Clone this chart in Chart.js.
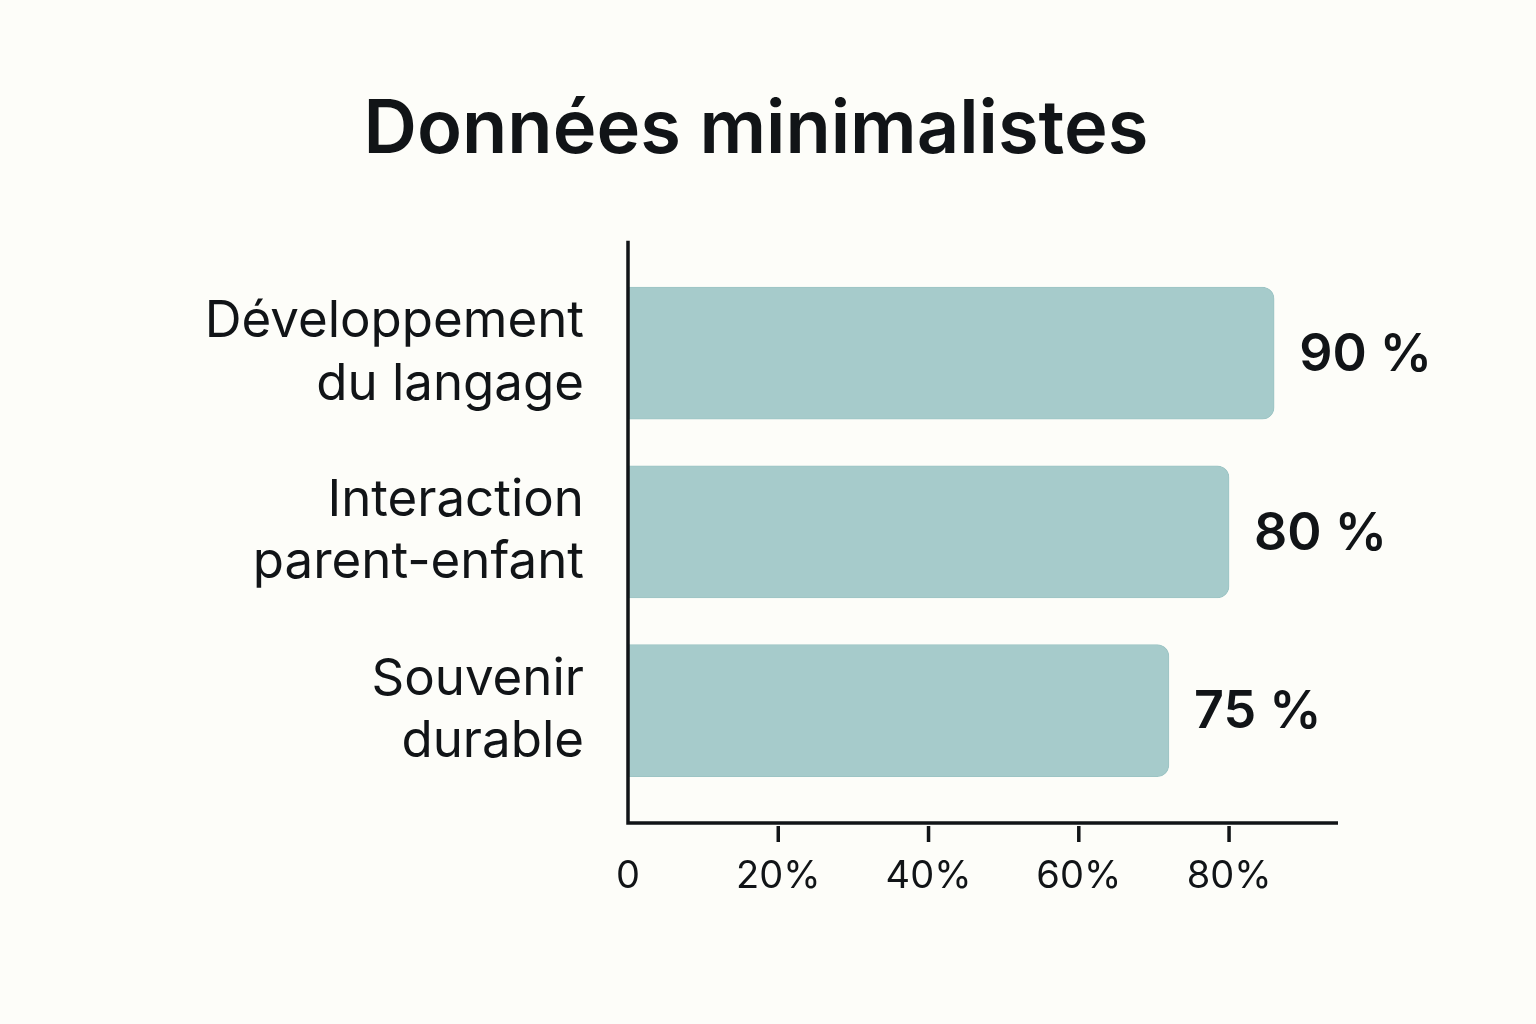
<!DOCTYPE html>
<html>
<head>
<meta charset="utf-8">
<script src="https://cdn.jsdelivr.net/npm/chart.js@4/dist/chart.umd.min.js"></script>
<style>
  body { margin: 0; background: #fdfdf9; }
  canvas { display: block; }
</style>
</head>
<body>
<canvas id="myChart" width="1536" height="1024"></canvas>
<script>
// Données
const categories = [
    ['Développement', 'du langage'],
    ['Interaction', 'parent-enfant'],
    ['Souvenir', 'durable']
];
const barValues = [86, 80, 72];           // longueur des barres telle que dessinée
const valueLabels = ['90 %', '80 %', '75 %'];
const xTickLabels = ['0', '20%', '40%', '60%', '80%'];

const ink = '#111417';

// Axes dessinés à la main (ils dépassent la zone des barres)
const axesPlugin = {
    id: 'axes',
    afterDatasetsDraw(chart) {
        const ctx = chart.ctx;
        const area = chart.chartArea;
        const x = chart.scales.x;
        const baseY = area.bottom + 23;
        ctx.save();
        ctx.strokeStyle = ink;
        ctx.lineWidth = 3.5;
        ctx.beginPath();
        ctx.moveTo(area.left, area.top - 23);
        ctx.lineTo(area.left, baseY + 1.75);
        ctx.moveTo(area.left, baseY);
        ctx.lineTo(area.right, baseY);
        ctx.stroke();
        // petites graduations
        [20, 40, 60, 80].forEach(function (v) {
            const px = x.getPixelForValue(v);
            ctx.beginPath();
            ctx.moveTo(px, baseY + 3);
            ctx.lineTo(px, baseY + 19);
            ctx.stroke();
        });
        // étiquettes de valeur
        ctx.fillStyle = ink;
        ctx.font = '600 52px Inter';
        ctx.textBaseline = 'middle';
        ctx.textAlign = 'left';
        chart.getDatasetMeta(0).data.forEach(function (bar, i) {
            ctx.fillText(valueLabels[i], bar.x + 25, bar.y + 2);
        });
        ctx.restore();
    }
};

const ctx = document.getElementById('myChart').getContext('2d');
const myChart = new Chart(ctx, {
    type: 'bar',
    data: {
        labels: categories,
        datasets: [{
            data: barValues,
            backgroundColor: '#a6cbcb',
            borderColor: '#9cc4c4',
            borderWidth: 1,
            borderRadius: 12,
            borderSkipped: 'start',
            barThickness: 132
        }]
    },
    options: {
        indexAxis: 'y',
        responsive: false,
        animation: false,
        layout: {
            padding: { left: 174, right: 198, top: 0, bottom: 0 }
        },
        plugins: {
            legend: { display: false },
            tooltip: { enabled: false },
            title: {
                display: true,
                text: 'Données minimalistes',
                color: ink,
                font: { family: 'Inter', size: 74, weight: '600', lineHeight: 1.2 },
                padding: { top: 86, bottom: 89 }
            }
        },
        scales: {
            x: {
                min: 0,
                max: 94.5,
                grid: { display: false, drawTicks: false },
                border: { display: false },
                ticks: {
                    stepSize: 20,
                    includeBounds: false,
                    maxRotation: 0,
                    padding: 54,
                    color: ink,
                    font: { family: 'Inter', size: 38 },
                    callback: function (value) {
                        return xTickLabels[value / 20];
                    }
                },
                afterFit: function (scale) { scale.height = 224; }
            },
            y: {
                grid: { display: false, drawTicks: false },
                border: { display: false },
                ticks: {
                    padding: 44,
                    color: ink,
                    font: { family: 'Inter', size: 51, lineHeight: 1.22 }
                },
                afterFit: function (scale) { scale.width = 454; }
            }
        }
    },
    plugins: [axesPlugin]
});
</script>
</body>
</html>
